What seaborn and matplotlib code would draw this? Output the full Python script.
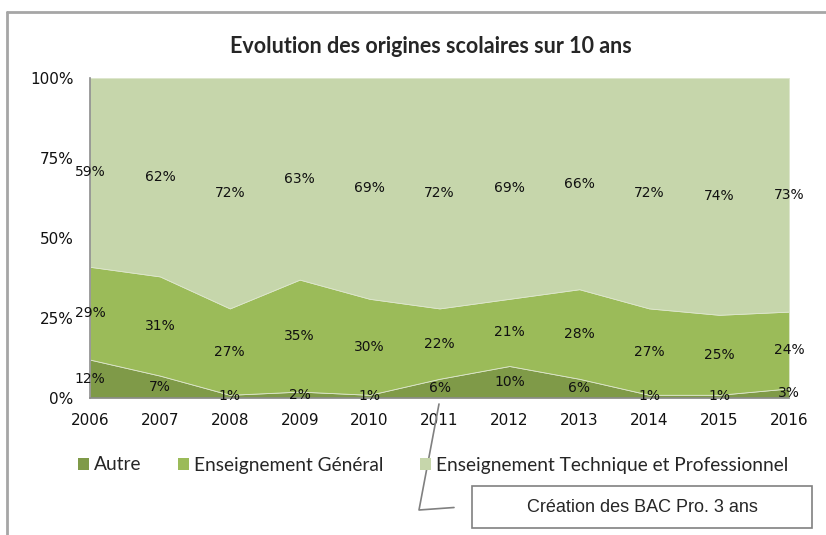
import matplotlib
matplotlib.use("Agg")
import matplotlib.pyplot as plt
from matplotlib.patches import Rectangle, Patch
from matplotlib.lines import Line2D
import seaborn as sns

# Data (percent of each year)
years = [2006, 2007, 2008, 2009, 2010, 2011, 2012, 2013, 2014, 2015, 2016]
autre = [12, 7, 1, 2, 1, 6, 10, 6, 1, 1, 3]
general = [29, 31, 27, 35, 30, 22, 21, 28, 27, 25, 24]
technique = [59, 62, 72, 63, 69, 72, 69, 66, 72, 74, 73]
series_names = ["Autre", "Enseignement Général", "Enseignement Technique et Professionnel"]
colors = ["#7F9A48", "#9BBB59", "#C6D6AB"]

sns.set_style("white")
plt.rcParams["font.family"] = ["DejaVu Sans"]

fig = plt.figure(figsize=(8.26, 5.35), dpi=100)
ax = fig.add_axes([90 / 826, 1 - 398 / 535, 699 / 826, 320 / 535])

ax.stackplot(years, autre, general, technique, colors=colors,
             edgecolor="#DDE6CC", linewidth=0.6)

# data labels in the middle of each band
base = [0] * len(years)
for vals in (autre, general, technique):
    for i, (x, v) in enumerate(zip(years, vals)):
        ax.text(x, base[i] + v / 2, f"{v}%", ha="center", va="center",
                fontsize=10, color="#111111")
        base[i] += v

ax.set_xlim(years[0], years[-1])
ax.set_ylim(0, 100)
ax.set_xticks(years)
ax.set_yticks([0, 25, 50, 75, 100])
ax.set_yticklabels(["0%", "25%", "50%", "75%", "100%"])
ax.tick_params(axis="both", length=0, labelsize=11, colors="#111111")
ax.tick_params(axis="x", pad=11)
ax.tick_params(axis="y", pad=12)
sns.despine(ax=ax, top=True, right=True)
for s in ("left", "bottom"):
    ax.spines[s].set_color("#8C8C8C")
    ax.spines[s].set_linewidth(1.2)

# outer chart frame (only top and left visible)
fig.add_artist(Line2D([7 / 826, 7 / 826], [0, 1 - 12 / 535], color="#A6A6A6", lw=2,
                      transform=fig.transFigure))
fig.add_artist(Line2D([7 / 826, 1], [1 - 12 / 535, 1 - 12 / 535], color="#A6A6A6", lw=2,
                      transform=fig.transFigure))

fig.text(431 / 826, 1 - 47 / 535, "Evolution des origines scolaires sur 10 ans",
         ha="center", va="center", fontsize=15.5, fontweight="bold", family="Lato")

handles = [Patch(facecolor=c, edgecolor="none") for c in colors]
leg = fig.legend(handles, series_names, loc="center", ncol=3,
                 bbox_to_anchor=(433 / 826, 1 - 465 / 535), frameon=False,
                 handlelength=0.6, handleheight=0.6, handletextpad=0.25,
                 columnspacing=1.9, prop={"family": "Lato", "size": 13.8})

# callout
fig.add_artist(Line2D([439 / 826, 419 / 826, 454 / 826],
                      [1 - 404 / 535, 1 - 510 / 535, 1 - 507.5 / 535],
                      color="#808080", lw=1.2, transform=fig.transFigure))
fig.add_artist(Rectangle((472 / 826, 1 - 528 / 535), 340 / 826, 42 / 535,
                         facecolor="white", edgecolor="#808080", lw=1.2,
                         transform=fig.transFigure))
fig.text(642 / 826, 1 - 508 / 535, "Création des BAC Pro. 3 ans", ha="center",
         va="center", fontsize=13, family="Liberation Sans")

fig.savefig("out.png", dpi=100)
